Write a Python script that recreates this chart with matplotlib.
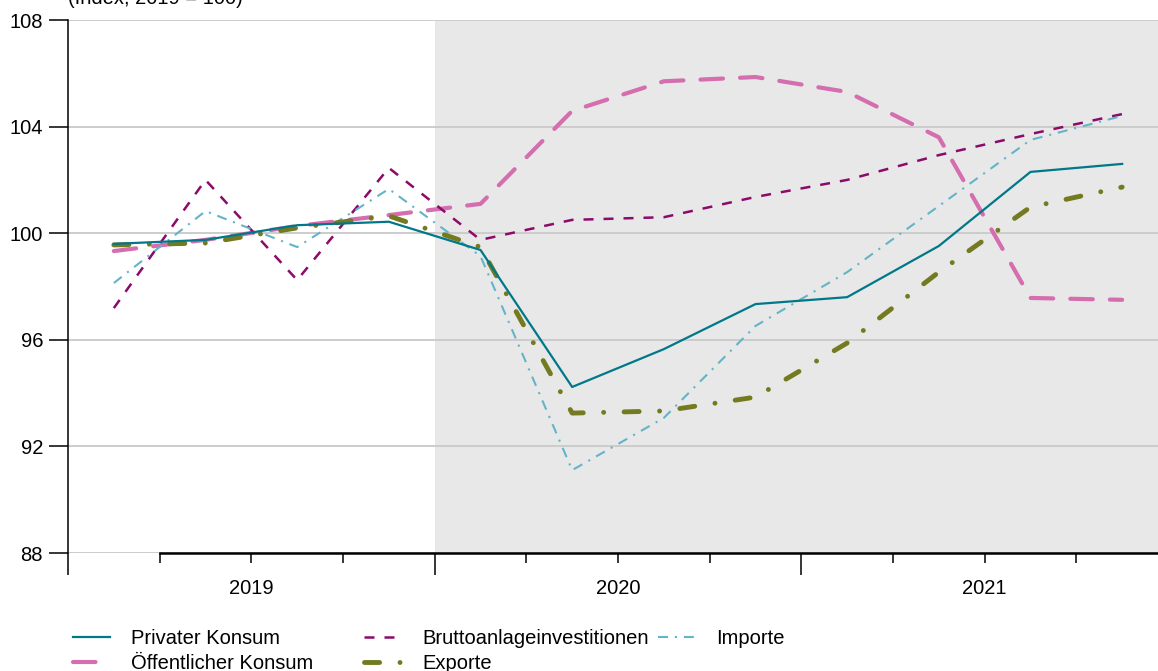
import matplotlib.pyplot as plt

plt.rcParams["font.family"] = ["Liberation Sans", "DejaVu Sans"]
plt.rcParams["font.size"] = 14.5

# quarters 2019Q1 .. 2021Q4, plotted at quarter midpoints
quarters = [2019.125, 2019.375, 2019.625, 2019.875,
            2020.125, 2020.375, 2020.625, 2020.875,
            2021.125, 2021.375, 2021.625, 2021.875]
years = [2019, 2020, 2021]

privater = [99.6, 99.75, 100.3, 100.43, 99.37, 94.23, 95.65, 97.34, 97.6, 99.52, 102.3, 102.6]
oeffentlicher = [99.33, 99.75, 100.27, 100.68, 101.1, 104.59, 105.7, 105.86, 105.3, 103.6, 97.57, 97.5]
brutto = [97.19, 102.0, 98.24, 102.45, 99.75, 100.5, 100.6, 101.36, 102.0, 102.93, 103.72, 104.47]
importe = [98.13, 100.83, 99.48, 101.66, 99.14, 91.11, 93.07, 96.52, 98.54, 101.02, 103.5, 104.4]
exporte = [99.56, 99.63, 100.2, 100.65, 99.48, 93.25, 93.33, 93.85, 95.88, 98.54, 100.98, 101.73]

fig = plt.figure(figsize=(11.58, 6.71), dpi=100)
ax = fig.add_axes([68 / 1158, 118 / 671, 1100 / 1158, 533 / 671])

ax.axvspan(2020, 2022, color="#e8e8e8", zorder=0.2, lw=0)
ax.set_axisbelow(True)
ax.grid(axis="y", color="#cccccc", lw=1.4)

l1, = ax.plot(quarters, privater, color="#00788a", lw=1.6, label="Privater Konsum", zorder=3)
l2, = ax.plot(quarters, oeffentlicher, color="#d46eae", lw=3.0, ls=(0, (5.4, 4.1)),
              dash_capstyle="round", label="Öffentlicher Konsum", zorder=2)
l3, = ax.plot(quarters, brutto, color="#8b0a6a", lw=1.8, ls=(0, (4, 4)),
              label="Bruttoanlageinvestitionen", zorder=2)
l4, = ax.plot(quarters, importe, color="#64b4c8", lw=1.5, ls=(0, (4.8, 3.3, 1, 3.3)),
              label="Importe", zorder=2)
l5, = ax.plot(quarters, exporte, color="#737a1f", lw=3.5, ls=(0, (3.1, 4.2, 0.01, 4.2)),
              dash_capstyle="round", label="Exporte", zorder=2)

ax.set_xlim(2019, 2022)
ax.set_ylim(88, 108)
ax.set_yticks([88, 92, 96, 100, 104, 108])
ax.tick_params(axis="y", length=14, width=1.1, pad=4)

ax.set_xticks([2019, 2020, 2021, 2022], ["", "", "", ""])
ax.set_xticks([2019.25, 2019.5, 2019.75, 2020.25, 2020.5, 2020.75,
               2021.25, 2021.5, 2021.75], minor=True)
ax.tick_params(axis="x", which="major", length=16, width=1.1)
ax.tick_params(axis="x", which="minor", length=7, width=1.1)

sec = ax.secondary_xaxis("bottom")
sec.set_xticks([y + 0.5 for y in years], [str(y) for y in years])
sec.tick_params(length=0, pad=19)
sec.spines["bottom"].set_visible(False)

for s in ["top", "right"]:
    ax.spines[s].set_visible(False)
ax.spines["left"].set_linewidth(1.1)
ax.spines["bottom"].set_linewidth(1.8)
ax.spines["bottom"].set_bounds(2019.25, 2022)

fig.text(68 / 1158, 1 - 4 / 671, "(Index, 2019 = 100)", ha="left", va="baseline")

leg_kw = dict(loc="upper left", frameon=False, handlelength=1.85, handletextpad=1.05,
              labelspacing=0.3, borderpad=0, borderaxespad=0)
fig.legend(handles=[l1, l2], bbox_to_anchor=(73 / 1158, 1 - 629 / 671), **leg_kw)
fig.legend(handles=[l3, l5], bbox_to_anchor=(364 / 1158, 1 - 629 / 671), **leg_kw)
fig.legend(handles=[l4], bbox_to_anchor=(658 / 1158, 1 - 629 / 671), **leg_kw)

fig.savefig("out.png", dpi=100)
